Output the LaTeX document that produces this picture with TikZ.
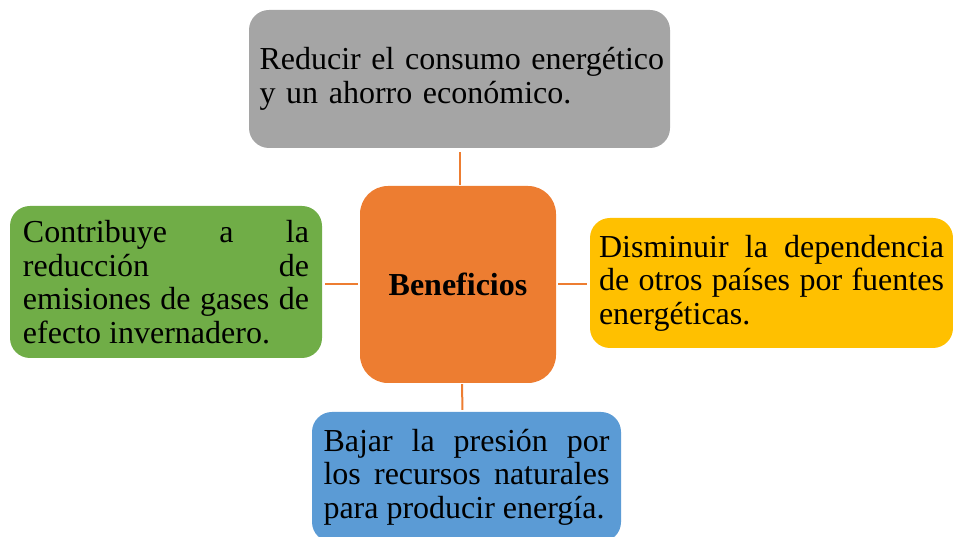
\documentclass[tikz,border=0pt]{standalone}
\usepackage{fontspec}
\setmainfont{Liberation Serif}
\definecolor{cgray}{HTML}{A5A5A5}
\definecolor{corange}{HTML}{ED7D31}
\definecolor{cgreen}{HTML}{70AD47}
\definecolor{cyellow}{HTML}{FFC000}
\definecolor{cblue}{HTML}{5B9BD5}
\begin{document}
\begin{tikzpicture}[x=1pt,y=1pt,
  box/.style={rectangle, rounded corners=20pt, inner sep=0pt, draw=none,
    font=\fontsize{32}{33.5}\selectfont},
  txt/.style={align=justify},
  link/.style={draw=corange, line width=2pt}]
\useasboundingbox (0,0) rectangle (953,537);
\node[box, fill=cgray, minimum width=421pt, minimum height=138pt, text width=400pt, align=left] (top) at (459.5,458)
  {\mbox{Reducir el consumo energético}\par\mbox{y un ahorro económico.}};
\node[box, fill=corange, rounded corners=28pt, minimum width=196pt, minimum height=197pt,
  font=\fontsize{32}{33.5}\selectfont\bfseries] (center) at (458,252.5) {Beneficios};
\node[box, txt, fill=cgreen, minimum width=312pt, minimum height=152pt, text width=286pt] (left) at (166,255)
  {Contribuye a la\linebreak reducción de\linebreak emisiones de gases de\linebreak efecto invernadero.};
\node[box, txt, fill=cyellow, minimum width=363pt, minimum height=130pt, text width=345pt] (right) at (771.5,254)
  {Disminuir la dependencia\linebreak de otros países por fuentes\linebreak energéticas.};
\node[box, txt, fill=cblue, minimum width=309pt, minimum height=130pt, text width=286pt] (bot) at (466.5,60)
  {Bajar la presión por\linebreak los recursos naturales\linebreak para producir energía.};
\draw[link, shorten <=4pt, shorten >=1pt] (top.south) -- (top.south |- center.north);
\draw[link, shorten <=2pt, shorten >=3pt] (center.west) -- (center.west -| left.east);
\draw[link, shorten <=2pt, shorten >=3pt] (center.east) -- (center.east -| right.west);
\draw[link, shorten <=1pt, shorten >=2pt] ([xshift=4pt]center.south) -- ([xshift=-4pt]bot.north);
\end{tikzpicture}
\end{document}
